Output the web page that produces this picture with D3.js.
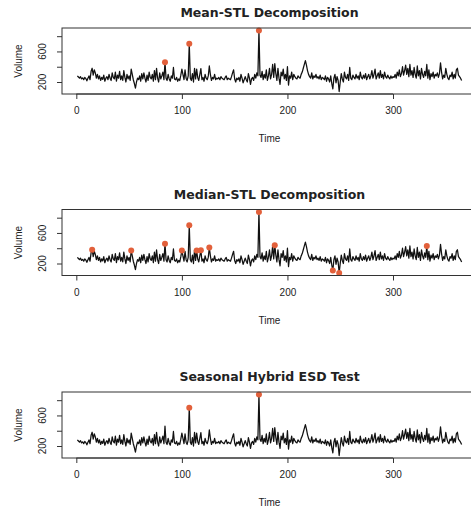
<!DOCTYPE html>
<html>
<head>
  <title>Anomaly detection panels</title>
  <script src="https://d3js.org/d3.v7.min.js"></script>
  <style>
    body { margin: 0; background: #fff; }
    text { font-family: "Liberation Sans", Arial, sans-serif; fill: #222; }
  </style>
</head>
<body>
<svg width="471" height="512"></svg>
<script>
  // daily volume, t = 1..365
  const volume = [
    280, 265, 250, 270, 240, 255, 230, 260, 245, 215, 250, 280, 230, 340, 380, 290, 360, 320, 250, 300, // 1
    240, 280, 220, 260, 235, 290, 210, 250, 270, 230, 300, 250, 220, 320, 260, 240, 330, 210, 290, 250, // 21
    340, 230, 280, 220, 350, 260, 200, 300, 240, 280, 220, 370, 300, 230, 180, 120, 200, 250, 230, 280, // 41
    210, 310, 240, 320, 250, 200, 290, 220, 330, 260, 240, 300, 210, 350, 230, 380, 250, 200, 320, 240, // 61
    280, 330, 230, 460, 250, 220, 300, 240, 210, 280, 250, 390, 240, 230, 260, 210, 240, 220, 290, 370, // 81
    300, 230, 360, 250, 220, 280, 700, 250, 220, 310, 200, 380, 240, 370, 260, 220, 300, 375, 230, 260, // 101
    210, 300, 250, 230, 280, 410, 300, 220, 260, 240, 300, 230, 250, 240, 260, 230, 270, 250, 240, 230, // 121
    260, 280, 230, 250, 240, 230, 270, 320, 360, 240, 200, 250, 230, 260, 210, 300, 250, 190, 230, 270, // 141
    230, 200, 310, 250, 170, 240, 260, 220, 300, 250, 320, 280, 875, 290, 260, 340, 230, 300, 250, 360, // 161
    220, 280, 380, 240, 300, 430, 260, 440, 310, 220, 380, 250, 170, 330, 280, 370, 240, 300, 220, 400, // 181
    160, 280, 250, 330, 230, 300, 270, 250, 240, 280, 260, 250, 300, 330, 380, 430, 480, 420, 350, 300, // 201
    270, 250, 320, 240, 280, 260, 300, 250, 270, 240, 290, 230, 260, 250, 230, 280, 210, 260, 240, 200, // 221
    280, 180, 110, 250, 300, 190, 270, 220, 75, 200, 310, 240, 200, 330, 260, 240, 300, 220, 390, 250,  // 241
    230, 290, 260, 240, 300, 250, 280, 230, 330, 260, 240, 290, 250, 310, 230, 270, 300, 240, 280, 350, // 261
    250, 300, 370, 240, 280, 320, 250, 350, 260, 300, 240, 330, 270, 250, 290, 260, 240, 280, 250, 270, // 281
    260, 300, 250, 330, 280, 360, 270, 310, 400, 290, 350, 420, 300, 380, 270, 430, 290, 350, 260, 390, // 301
    300, 250, 410, 280, 350, 240, 380, 300, 260, 340, 280, 430, 250, 360, 230, 310, 270, 330, 250, 300, // 321
    280, 320, 260, 310, 450, 330, 240, 290, 260, 380, 300, 250, 230, 290, 270, 330, 240, 300, 250, 360, // 341
    380, 290, 270, 250, 220                                                                            // 361
  ];

  // anomaly positions (time index) found by each method
  const meanAnoms = [84, 107, 173];
  const medianAnoms = [15, 52, 84, 100, 107, 114, 118, 126, 173, 188, 243, 249, 332];
  const shesdAnoms = [107, 173];

  const titles = ["Mean-STL Decomposition", "Median-STL Decomposition", "Seasonal Hybrid ESD Test"];
  const xTicks = [0, 100, 200, 300];
  const yTicks = [200, 400, 600, 800];
  const yLabels = [200, 600];

  const data = volume.map((v, i) => ({ t: i + 1, v: v }));
  const panels = [meanAnoms, medianAnoms, shesdAnoms];
  const panelTops = [28, 209.5, 392];

  const svg = d3.select("svg");
  const left = 62, right = 477, ph = 66;

  // R style: extend the data range by 4% each side
  function padded(ext) {
    const d = (ext[1] - ext[0]) * 0.04;
    return [ext[0] - d, ext[1] + d];
  }

  const x = d3.scaleLinear()
          .domain(padded(d3.extent(data, d => d.t)))
          .range([left, right]);

  panels.forEach((anoms, k) => {
    const top = panelTops[k], bottom = top + ph;
    const y = d3.scaleLinear()
            .domain(padded(d3.extent(data, d => d.v)))
            .range([bottom, top]);

    const g = svg.append("g");

    g.append("text")
            .attr("x", (left + right) / 2)
            .attr("y", top - 11)
            .attr("text-anchor", "middle")
            .attr("font-size", 12.5)
            .attr("font-weight", "bold")
            .style("font-family", "'DejaVu Sans', Verdana, sans-serif")
            .text(titles[k]);

    const line = d3.line().x(d => x(d.t)).y(d => y(d.v));

    g.append("path")
            .datum(data)
            .attr("d", line)
            .attr("fill", "none")
            .attr("stroke", "#111")
            .attr("stroke-width", 1.25)
            .attr("stroke-linejoin", "round");

    g.selectAll("circle")
            .data(anoms.map(t => data[t - 1]))
            .enter().append("circle")
            .attr("cx", d => x(d.t))
            .attr("cy", d => y(d.v))
            .attr("r", 3)
            .attr("fill", "#e2603b");

    g.append("rect")
            .attr("x", left)
            .attr("y", top)
            .attr("width", right - left)
            .attr("height", ph)
            .attr("fill", "none")
            .attr("stroke", "#333")
            .attr("stroke-width", 1);

    // x axis
    const xa = g.append("g")
            .attr("transform", `translate(0,${bottom})`)
            .call(d3.axisBottom(x).tickValues(xTicks).tickSize(5).tickPadding(8));
    xa.select(".domain").remove();
    xa.append("line")
            .attr("x1", x(xTicks[0])).attr("x2", x(xTicks[xTicks.length - 1]))
            .attr("stroke", "#333");
    xa.selectAll(".tick line").attr("stroke", "#333");
    xa.selectAll(".tick text")
            .attr("font-size", 10)
            .attr("font-family", "Liberation Sans, Arial, sans-serif")
            .attr("fill", "#222");

    // y axis
    const ya = g.append("g")
            .attr("transform", `translate(${left},0)`)
            .call(d3.axisLeft(y).tickValues(yTicks).tickSize(5).tickFormat(""));
    ya.select(".domain").remove();
    ya.selectAll(".tick line").attr("stroke", "#333");

    g.selectAll(".ylab")
            .data(yLabels)
            .enter().append("text")
            .attr("class", "ylab")
            .attr("transform", d => `translate(46,${y(d)}) rotate(-90)`)
            .attr("text-anchor", "middle")
            .attr("font-size", 10)
            .text(d => d);

    g.append("text")
            .attr("transform", `translate(22,${(top + bottom) / 2}) rotate(-90)`)
            .attr("text-anchor", "middle")
            .attr("font-size", 10)
            .text("Volume");

    g.append("text")
            .attr("x", (left + right) / 2)
            .attr("y", bottom + 48)
            .attr("text-anchor", "middle")
            .attr("font-size", 10)
            .text("Time");
  });
</script>
</body>
</html>
